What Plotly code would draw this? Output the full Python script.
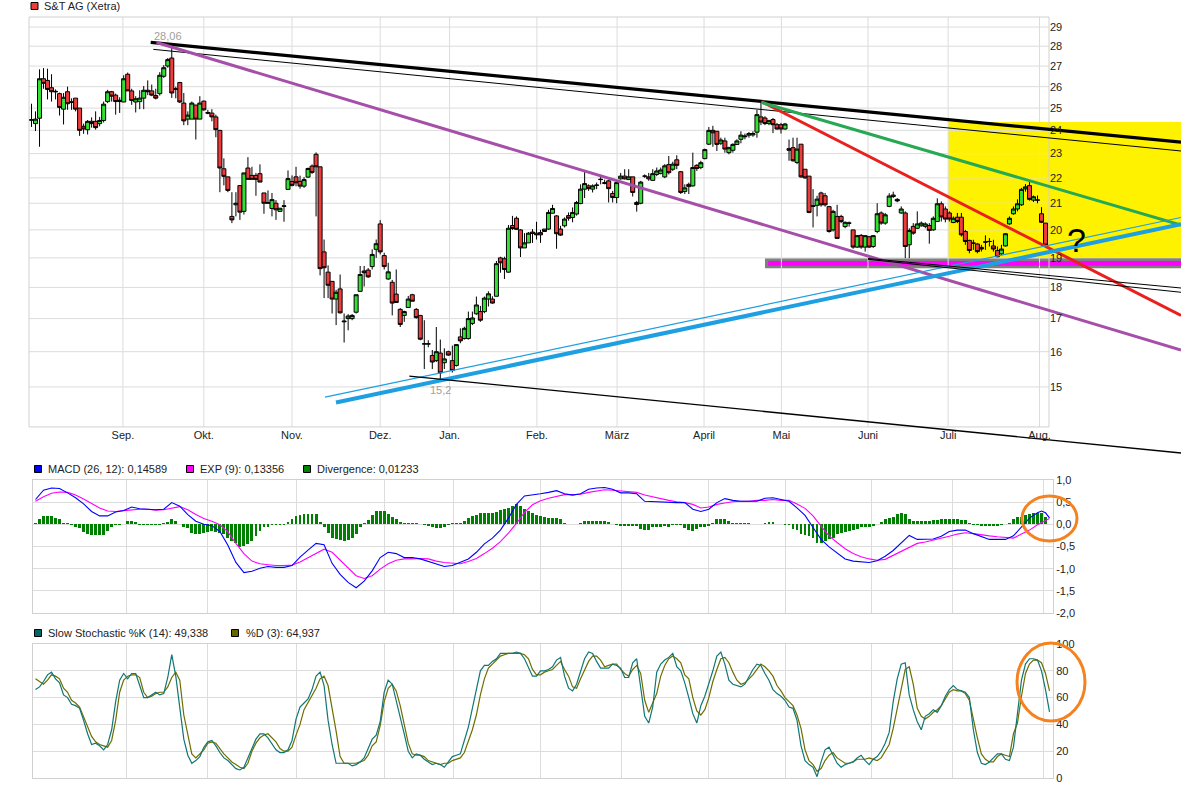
import math
import plotly.graph_objects as go

W, H = 1181, 790
FONT = "Liberation Sans, Arial, Helvetica, sans-serif"
GRID = "#dcdcdc"

# ---------------- price data (daily candles, Xetra) ----------------
opens = [
    24.45, 24.3, 24.54, 26.38, 26.3, 25.95, 25.78, 25.67, 24.95, 25.76,
    25.29, 25.46, 25.0, 24.18, 24.03, 24.4, 24.4, 24.3, 24.44, 25.3,
    25.76, 25.6, 25.3, 25.28, 26.6, 25.8, 25.28, 25.3, 25.46, 25.83,
    25.8, 25.58, 25.67, 26.5, 27.0, 27.4, 25.9, 26.2, 25.23, 24.5,
    24.5, 25.14, 24.5, 25.32, 24.8, 24.77, 24.6, 24.0, 22.37, 22.04,
    20.5, 20.94, 21.69, 20.69, 22.4, 22.1, 22.1, 22.17, 21.4, 21.0,
    20.8, 21.0, 20.69, 20.88, 21.54, 21.85, 22.04, 21.86, 21.67, 22.03,
    22.48, 22.97, 22.45, 19.21, 18.51, 18.2, 17.62, 17.95, 16.9, 17.0,
    17.0, 17.2, 17.87, 18.55, 18.58, 18.7, 19.3, 20.22, 19.08, 18.28,
    18.17, 17.78, 17.29, 17.1, 17.35, 17.76, 17.29, 17.1, 16.23, 16.23,
    15.89, 15.74, 15.96, 15.68, 16.0, 15.74, 15.6, 16.44, 16.39, 16.39,
    16.85, 17.15, 17.22, 17.22, 17.62, 17.62, 17.71, 19.0, 18.97, 18.51,
    20.16, 20.43, 20.0, 19.35, 19.53, 19.92, 19.88, 19.9, 20.03, 20.03,
    20.62, 20.52, 20.03, 20.15, 20.53, 20.46, 20.59, 20.99, 21.55, 21.68,
    21.55, 21.7, 21.93, 21.81, 21.88, 21.38, 21.22, 21.96, 22.07, 21.93,
    22.04, 21.03, 21.0, 22.07, 22.04, 21.9, 22.14, 22.18, 22.04, 22.54,
    22.35, 22.74, 22.25, 21.46, 21.74, 21.68, 22.51, 22.42, 22.79, 23.4,
    24.0, 23.96, 23.44, 23.54, 23.04, 23.14, 23.39, 23.61, 23.72, 23.79,
    23.8, 23.92, 24.6, 24.55, 24.3, 24.48, 24.25, 24.25, 24.06, 23.21,
    23.25, 22.63, 23.4, 22.35, 22.07, 20.88, 20.92, 21.4, 21.29, 20.87,
    20.0, 20.5, 20.5, 20.12, 20.25, 20.0, 19.38, 19.8, 19.38, 19.75,
    19.4, 19.94, 20.63, 20.25, 20.88, 21.32, 21.15, 20.63, 20.63, 19.46,
    20.13, 20.06, 20.15, 20.13, 20.16, 20.0, 20.31, 20.98, 20.78, 20.63,
    20.27, 20.47, 20.47, 19.94, 19.62, 19.52, 19.49, 19.37, 19.56, 19.58,
    19.42, 19.26, 19.14, 19.42, 20.22, 20.6, 20.78, 20.94, 21.56, 21.69,
    21.12, 21.13, 20.6, 20.25,
]
highs = [
    25.2, 24.85, 26.84, 26.9, 26.87, 26.6, 25.87, 25.72, 25.7, 26.0,
    25.45, 25.46, 25.0, 24.3, 24.46, 24.58, 24.85, 24.6, 25.3, 25.85,
    25.8, 25.67, 25.5, 26.55, 26.68, 25.9, 25.55, 25.83, 26.03, 26.3,
    26.1, 25.9, 26.7, 27.05, 27.4, 28.06, 26.0, 26.23, 25.7, 24.85,
    25.3, 25.14, 25.55, 25.35, 24.92, 24.95, 24.7, 24.0, 22.8, 22.04,
    21.43, 21.43, 21.69, 22.2, 22.85, 22.45, 22.2, 22.55, 21.4, 21.5,
    21.4, 21.12, 20.81, 21.12, 22.3, 22.1, 22.45, 22.09, 22.03, 22.42,
    22.55, 23.05, 22.45, 19.65, 18.74, 18.2, 17.92, 18.43, 17.16, 17.14,
    17.14, 17.76, 18.72, 18.72, 18.65, 19.3, 19.65, 20.36, 19.18, 18.83,
    18.25, 18.6, 17.33, 17.25, 17.72, 17.79, 17.33, 17.1, 16.95, 16.34,
    16.05, 16.74, 16.36, 16.1, 16.03, 16.18, 16.21, 16.7, 16.75, 17.22,
    17.22, 17.7, 17.4, 17.7, 17.87, 17.71, 18.89, 19.04, 19.04, 20.18,
    20.52, 20.5, 20.03, 19.88, 19.92, 20.03, 20.3, 20.0, 20.03, 20.75,
    20.94, 20.55, 20.15, 20.46, 20.65, 20.84, 21.09, 21.74, 22.24, 21.74,
    21.74, 21.81, 22.07, 21.93, 21.93, 21.48, 21.84, 22.2, 22.35, 22.35,
    22.04, 21.09, 21.88, 22.14, 22.2, 22.35, 22.42, 22.42, 22.56, 22.9,
    22.66, 22.93, 22.28, 21.74, 21.81, 23.04, 22.56, 22.7, 23.21, 24.15,
    24.2, 23.96, 23.68, 23.68, 23.29, 23.44, 23.61, 23.96, 23.86, 23.93,
    23.96, 24.92, 25.25, 24.63, 24.47, 24.55, 24.33, 24.33, 24.33, 23.6,
    23.68, 23.68, 23.4, 22.35, 22.07, 21.55, 21.29, 21.45, 21.4, 20.9,
    20.75, 20.94, 20.56, 20.31, 20.31, 20.0, 19.81, 19.85, 19.8, 19.78,
    19.81, 21.0, 20.69, 20.63, 21.39, 21.45, 21.2, 20.88, 20.69, 20.06,
    20.25, 20.69, 20.31, 20.28, 20.25, 20.5, 21.19, 21.07, 20.88, 20.69,
    20.5, 20.63, 20.63, 20.0, 19.64, 19.64, 19.52, 19.46, 19.8, 19.7,
    19.64, 19.4, 19.46, 19.88, 20.5, 20.88, 21.15, 21.6, 21.75, 21.85,
    21.3, 21.3, 20.85, 20.25,
]
lows = [
    24.15, 23.97, 23.29, 25.9, 25.4, 25.3, 25.4, 24.66, 24.26, 24.92,
    24.92, 24.85, 23.76, 23.85, 23.82, 24.12, 24.03, 24.18, 24.35, 25.23,
    25.3, 24.7, 24.78, 25.28, 25.8, 25.15, 24.8, 24.95, 24.95, 25.6,
    25.55, 25.4, 25.58, 26.42, 26.92, 25.47, 25.45, 25.23, 24.23, 24.23,
    24.5, 23.6, 24.5, 24.88, 24.72, 24.4, 23.7, 21.43, 21.7, 21.43,
    20.25, 20.5, 20.37, 20.57, 21.94, 21.94, 21.29, 21.83, 20.6, 21.0,
    20.5, 20.37, 20.69, 20.3, 21.54, 21.66, 21.66, 21.57, 21.6, 22.0,
    22.16, 20.5, 18.4, 17.65, 17.65, 17.16, 16.8, 17.16, 16.27, 16.64,
    16.95, 17.16, 17.87, 18.03, 18.32, 18.6, 19.0, 19.12, 18.6, 18.25,
    17.1, 17.5, 16.74, 16.9, 17.35, 17.55, 17.0, 16.34, 15.5, 16.13,
    15.5, 15.7, 15.2, 15.5, 15.88, 15.4, 15.57, 16.25, 16.36, 16.36,
    16.8, 17.12, 16.9, 17.17, 17.38, 17.47, 17.71, 18.49, 18.28, 18.49,
    20.0, 20.0, 19.03, 19.35, 19.53, 19.53, 19.65, 19.53, 19.94, 20.0,
    20.62, 19.32, 19.78, 20.09, 20.34, 20.28, 20.53, 20.96, 21.2, 21.48,
    21.42, 21.55, 21.74, 21.74, 21.03, 21.03, 21.0, 21.93, 21.93, 21.93,
    21.26, 20.68, 20.96, 22.0, 21.88, 21.88, 22.07, 22.14, 21.99, 22.14,
    22.28, 22.35, 21.36, 21.36, 21.36, 21.65, 22.28, 22.35, 22.76, 23.36,
    23.29, 23.11, 23.36, 23.04, 22.97, 23.04, 23.36, 23.44, 23.61, 23.68,
    23.72, 23.68, 24.23, 24.23, 24.23, 23.88, 24.03, 23.86, 24.03, 22.7,
    22.66, 22.56, 22.0, 21.96, 20.62, 20.09, 20.5, 20.87, 20.87, 19.9,
    19.94, 19.69, 20.25, 20.06, 20.12, 19.32, 19.35, 19.32, 19.22, 19.35,
    19.35, 19.88, 20.19, 20.19, 20.85, 21.2, 21.04, 20.6, 18.99, 18.99,
    19.82, 20.03, 20.12, 20.06, 19.5, 19.97, 20.31, 20.31, 20.28, 20.31,
    20.25, 20.25, 19.76, 19.46, 19.16, 19.28, 19.16, 19.22, 19.28, 19.4,
    19.22, 19.02, 19.1, 19.4, 20.19, 20.56, 20.69, 20.9, 21.45, 21.1,
    21.05, 21.0, 20.25, 19.4,
]
closes = [
    24.47, 24.5, 26.38, 26.16, 25.87, 25.76, 25.76, 25.03, 25.5, 25.2,
    25.27, 24.95, 24.0, 24.06, 24.4, 24.3, 24.12, 24.44, 25.18, 25.76,
    25.55, 25.3, 25.36, 26.38, 25.8, 25.35, 25.43, 25.46, 25.83, 25.76,
    25.6, 25.46, 26.55, 26.92, 27.32, 25.7, 25.88, 25.28, 24.42, 24.68,
    25.23, 24.5, 25.23, 24.92, 24.77, 24.6, 24.03, 22.4, 22.06, 21.5,
    20.37, 21.0, 20.66, 22.2, 21.94, 21.94, 21.94, 21.83, 21.0, 21.02,
    21.14, 20.75, 20.81, 20.9, 21.97, 21.7, 21.8, 21.67, 21.93, 22.38,
    22.22, 22.45, 18.63, 18.66, 18.07, 17.62, 17.84, 17.18, 16.92, 17.08,
    17.1, 17.76, 18.43, 18.49, 18.35, 19.12, 19.5, 19.21, 18.7, 18.52,
    17.49, 17.51, 16.82, 17.22, 17.62, 17.55, 17.03, 16.37, 16.23, 16.23,
    15.7, 16.0, 15.39, 15.79, 15.9, 15.46, 16.21, 16.32, 16.7, 17.0,
    17.02, 17.43, 16.95, 17.65, 17.79, 17.49, 18.8, 18.83, 18.6, 20.06,
    20.05, 20.02, 19.35, 19.53, 19.88, 19.87, 19.82, 19.82, 19.94, 20.65,
    20.8, 19.86, 19.81, 20.4, 20.43, 20.65, 21.03, 21.55, 21.77, 21.57,
    21.68, 21.71, 21.94, 21.78, 21.57, 21.22, 21.81, 22.07, 21.96, 22.04,
    21.42, 20.95, 21.83, 22.07, 21.96, 22.17, 22.28, 22.32, 22.49, 22.21,
    22.56, 22.51, 21.42, 21.6, 21.65, 22.42, 22.38, 22.62, 23.17, 24.0,
    23.89, 23.39, 23.58, 23.19, 23.25, 23.39, 23.54, 23.79, 23.75, 23.86,
    23.86, 24.7, 24.37, 24.3, 24.43, 24.25, 24.06, 24.06, 24.28, 23.14,
    22.7, 23.19, 22.04, 22.0, 20.65, 20.9, 21.16, 20.94, 20.94, 19.94,
    20.69, 19.69, 20.31, 20.28, 20.25, 19.38, 19.79, 19.38, 19.79, 19.38,
    19.79, 20.6, 20.25, 20.56, 21.28, 21.26, 21.09, 20.78, 19.4, 19.98,
    19.88, 20.22, 20.25, 20.22, 19.98, 20.43, 20.98, 20.48, 20.4, 20.4,
    20.43, 20.31, 19.82, 19.58, 19.26, 19.52, 19.22, 19.31, 19.56, 19.58,
    19.31, 19.04, 19.31, 19.86, 20.43, 20.78, 20.98, 21.54, 21.64, 21.15,
    21.25, 21.12, 20.28, 19.45,
]

# month gridline positions (in candle-index units) and labels
month_pos = [22.8, 43.0, 65.0, 87.0, 104.3, 126.1, 146.1, 167.8, 187.1, 208.7, 228.7, 251.5]
month_labels = ["Sep.", "Okt.", "Nov.", "Dez.", "Jan.", "Feb.", "März", "April", "Mai", "Juni", "Juli", "Aug."]
price_ticks = [15, 16, 17, 18, 19, 20, 21, 22, 23, 24, 25, 26, 27, 28, 29]

# labelled extremes (candle index, price)
high_idx, high_price, high_text = 35, 28.06, "28,06"
low_idx, low_price, low_text = 102, 15.2, "15,2"

# ---------------- MACD (sampled every 2nd trading day) ----------------
macd_days = list(range(1, 252, 2)) + [252, 253, 254]
macd_vals = [
    0.56, 0.77, 0.82, 0.81, 0.71, 0.60, 0.46, 0.29, 0.19, 0.19,
    0.28, 0.31, 0.39, 0.35, 0.34, 0.33, 0.34, 0.49, 0.41, 0.22,
    0.07, 0.0, -0.03, -0.16, -0.47, -0.86, -1.09, -1.06, -0.99, -0.95,
    -0.97, -0.97, -0.93, -0.74, -0.58, -0.43, -0.46, -0.88, -1.13, -1.31,
    -1.43, -1.28, -1.05, -0.75, -0.63, -0.66, -0.75, -0.75, -0.78, -0.84,
    -0.89, -0.95, -0.93, -0.86, -0.78, -0.63, -0.44, -0.31, -0.13, 0.14,
    0.45, 0.64, 0.66, 0.69, 0.72, 0.76, 0.69, 0.66, 0.69, 0.79,
    0.82, 0.83, 0.79, 0.71, 0.71, 0.69, 0.52, 0.51, 0.50, 0.49,
    0.49, 0.49, 0.34, 0.29, 0.34, 0.49, 0.58, 0.54, 0.52, 0.52,
    0.52, 0.59, 0.60, 0.56, 0.52, 0.37, 0.20, -0.07, -0.34, -0.51,
    -0.64, -0.78, -0.83, -0.84, -0.86, -0.82, -0.72, -0.59, -0.42, -0.25,
    -0.34, -0.34, -0.33, -0.27, -0.16, -0.13, -0.13, -0.21, -0.28, -0.34,
    -0.34, -0.34, -0.26, -0.05, 0.14, 0.26,
    0.30, 0.26, 0.14589,
]
exp_vals = [
    0.52, 0.62, 0.70, 0.73, 0.72, 0.66, 0.57, 0.47, 0.37, 0.30,
    0.29, 0.31, 0.33, 0.34, 0.34, 0.32, 0.33, 0.37, 0.40, 0.33,
    0.22, 0.13, 0.07, -0.01, -0.17, -0.43, -0.66, -0.83, -0.89, -0.91,
    -0.93, -0.93, -0.92, -0.85, -0.75, -0.66, -0.56, -0.63, -0.81, -0.99,
    -1.16, -1.22, -1.16, -1.01, -0.89, -0.81, -0.78, -0.78, -0.77, -0.78,
    -0.83, -0.86, -0.88, -0.89, -0.84, -0.77, -0.66, -0.54, -0.39, -0.20,
    0.02, 0.27, 0.44, 0.53, 0.59, 0.63, 0.67, 0.67, 0.68, 0.72,
    0.75, 0.78, 0.77, 0.75, 0.73, 0.72, 0.66, 0.62, 0.57, 0.54,
    0.51, 0.49, 0.45, 0.37, 0.39, 0.45, 0.48, 0.51, 0.52, 0.52,
    0.54, 0.54, 0.56, 0.54, 0.54, 0.46, 0.36, 0.19, -0.04, -0.26,
    -0.41, -0.55, -0.66, -0.73, -0.78, -0.81, -0.79, -0.70, -0.60, -0.51,
    -0.43, -0.40, -0.36, -0.31, -0.27, -0.22, -0.19, -0.21, -0.24, -0.26,
    -0.28, -0.30, -0.31, -0.22, -0.13, -0.01,
    0.04, 0.09, 0.13356,
]
div_vals = [
    0.04, 0.11, 0.19, 0.19, 0.19, 0.15, 0.11, 0.04, 0.02, -0.01,
    -0.05, -0.09, -0.17, -0.22, -0.24, -0.25, -0.25, -0.23, -0.15, -0.07,
    -0.01, -0.01, 0.0, 0.07, 0.07, 0.05, -0.01, -0.01, -0.01, -0.01,
    -0.01, -0.01, 0.03, 0.06, 0.12, 0.08, 0.01, -0.06, -0.09, -0.19,
    -0.22, -0.22, -0.2, -0.17, -0.15, -0.17, -0.19, -0.22, -0.30, -0.37,
    -0.43, -0.51, -0.49, -0.45, -0.37, -0.26, -0.15, -0.07, -0.05, -0.02,
    -0.01, -0.01, -0.01, 0.05, 0.13, 0.19, 0.22, 0.23, 0.24, 0.24,
    0.24, 0.05, -0.07, -0.2, -0.30, -0.34, -0.36, -0.37, -0.35, -0.31,
    -0.21, -0.06, 0.03, 0.10, 0.21, 0.29, 0.31, 0.29, 0.23, 0.16,
    0.11, 0.05, 0.03, 0.02, 0.03, 0.02, 0.01, -0.02, -0.04, -0.07,
    -0.09, -0.08, -0.05, -0.02, 0.03, 0.04, 0.04, 0.07, 0.14, 0.19,
    0.22, 0.25, 0.26, 0.26, 0.26, 0.28, 0.33, 0.35, 0.37, 0.41,
    0.45, 0.42, 0.35, 0.30, 0.26, 0.22, 0.19, 0.17, 0.15, 0.15,
    0.14, 0.13, 0.04, 0.01, 0.01, 0.01, 0.02, 0.07, 0.08, 0.08,
    0.08, 0.08, 0.07, 0.05, 0.015, -0.02, -0.03, -0.03, -0.04, -0.03,
    -0.04, -0.11, -0.13, -0.12, -0.07, -0.05, -0.05, -0.04, -0.05, -0.015,
    -0.015, -0.015, -0.09, -0.13, -0.15, -0.11, -0.07, -0.05, -0.04, 0.04,
    0.12, 0.12, 0.11, 0.07, 0.03, 0.02, 0.02, 0.03, 0.02, 0.015,
    0.015, 0.015, 0.04, 0.06, 0.05, 0.0, 0.0, -0.01, -0.015, -0.11,
    -0.13, -0.22, -0.24, -0.26, -0.30, -0.41, -0.41, -0.37, -0.33, -0.30,
    -0.22, -0.19, -0.17, -0.15, -0.13, -0.11, -0.07, -0.06, -0.05, -0.04,
    0.015, 0.06, 0.11, 0.15, 0.16, 0.24, 0.26, 0.24, 0.11, 0.07,
    0.07, 0.07, 0.07, 0.08, 0.09, 0.1, 0.11, 0.11, 0.11, 0.11,
    0.11, 0.1, 0.09, 0.04, -0.015, -0.02, -0.04, -0.04, -0.04, -0.03,
    -0.03, -0.02, 0.0, 0.04, 0.11, 0.16, 0.16, 0.22, 0.24, 0.26,
    0.26, 0.25, 0.17, 0.01233,
]

# ---------------- Slow stochastic ----------------
stoch_k = [
    66, 68, 72, 77, 79, 74, 71, 62, 60, 55,
    54, 52, 43, 33, 25, 26, 24, 21, 25, 36,
    57, 73, 78, 74, 78, 78, 69, 60, 60, 62,
    64, 62, 63, 75, 92, 76, 51, 29, 17, 11,
    13, 16, 23, 27, 28, 24, 19, 15, 13, 10,
    7, 6, 8, 15, 22, 29, 33, 33, 30, 25,
    21, 19, 19, 21, 28, 44, 53, 56, 59, 66,
    76, 79, 69, 43, 25, 11, 11, 11, 11, 9,
    10, 12, 15, 22, 29, 32, 42, 64, 73, 70,
    58, 47, 33, 20, 15, 18, 17, 14, 12, 10,
    11, 10, 8, 12, 16, 17, 18, 28, 38, 52,
    65, 80, 84, 84, 87, 89, 93, 93, 93, 93,
    94, 93, 89, 82, 76, 76, 80, 80, 81, 83,
    88, 90, 76, 67, 65, 70, 80, 89, 94, 93,
    87, 82, 82, 82, 85, 84, 82, 75, 75, 86,
    89, 69, 46, 41, 53, 79, 85, 88, 90, 93,
    83, 80, 71, 60, 48, 41, 54, 61, 70, 80,
    91, 94, 85, 73, 70, 69, 68, 70, 76, 81,
    85, 84, 78, 73, 66, 63, 61, 58, 53, 52,
    43, 24, 13, 10, 8, 1, 12, 21, 23, 17,
    11, 8, 10, 11, 12, 15, 17, 13, 10, 14,
    16, 20, 26, 34, 57, 74, 85, 86, 62, 51,
    42, 36, 46, 48, 51, 49, 54, 61, 66, 69,
    66, 65, 64, 60, 36, 19, 11, 10, 12, 15,
    18, 18, 14, 13, 23, 48, 73, 85, 89, 89,
    88, 80, 66, 49.338,
]
stoch_d = [
    74, 72, 70, 73, 77, 76, 74, 67, 64, 58,
    56, 53, 46, 39, 31, 27, 25, 24, 23, 28,
    43, 64, 73, 76, 77, 77, 75, 64, 60, 61,
    63, 64, 64, 68, 75, 79, 73, 47, 32, 18,
    15, 18, 21, 26, 27, 26, 22, 18, 15, 12,
    10, 8, 7, 11, 20, 26, 30, 32, 33, 30,
    27, 22, 20, 20, 23, 32, 40, 51, 56, 61,
    67, 74, 76, 69, 53, 35, 16, 11, 11, 11,
    11, 12, 13, 17, 24, 27, 39, 57, 67, 70,
    65, 54, 40, 26, 18, 17, 17, 16, 13, 12,
    11, 10, 11, 11, 13, 14, 15, 19, 28, 36,
    47, 62, 74, 82, 85, 88, 91, 92, 93, 93,
    93, 93, 92, 89, 81, 77, 77, 79, 80, 81,
    84, 87, 81, 76, 68, 67, 74, 81, 87, 91,
    91, 88, 83, 84, 85, 85, 81, 78, 76, 81,
    84, 78, 58, 49, 56, 63, 76, 84, 89, 91,
    89, 86, 77, 74, 60, 50, 47, 51, 60, 72,
    81, 89, 90, 86, 79, 73, 70, 71, 74, 77,
    81, 85, 83, 80, 76, 69, 65, 60, 57, 54,
    47, 37, 21, 13, 10, 5, 7, 13, 17, 19,
    15, 13, 11, 11, 12, 14, 14, 14, 15, 14,
    13, 15, 20, 25, 37, 52, 68, 81, 83, 70,
    52, 46, 44, 46, 49, 51, 54, 59, 64, 66,
    65, 65, 63, 58, 43, 30, 18, 14, 12, 12,
    16, 18, 17, 16, 33, 41, 61, 78, 85, 88,
    88, 86, 78, 64.937,
]

# ---------------- drawn analysis objects (candle index, price) ----------------
trend_lines = [
    (29.74, 28.20, 286.8, 23.49),   # thick black resistance
    (30.39, 27.84, 286.8, 23.11),   # thin black resistance
    (31.19, 28.19, 286.8, 16.05),   # purple
    (182.1, 25.30, 286.8, 17.10),   # red
    (182.1, 25.26, 286.8, 20.18),   # green
    (75.97, 14.58, 286.8, 20.21),   # thick blue support
    (73.23, 14.72, 286.8, 20.46),   # thin blue support
    (94.26, 15.30, 286.8, 13.29),   # lower black
    (208.7, 18.98, 286.8, 17.98),   # black A
    (208.7, 18.95, 286.8, 17.84),   # black B
]
trend_styles = [
    ("#000000", 3.2), ("#000000", 1.0), ("#a64fa9", 3.0), ("#e8201e", 3.0),
    ("#27a852", 3.0), ("#1d9fe2", 4.0), ("#1d9fe2", 1.2), ("#000000", 1.3),
    ("#000000", 1.0), ("#000000", 1.0),
]
yellow_box = (228.7, 18.99, 286.8, 24.37)
support_grey = (183.0, 18.64, 286.8, 18.99)
support_magenta = (183.8, 18.73, 286.8, 18.89)

# ---------------- geometry ----------------
def fx(p):
    return p / W


def fy(p):
    return 1 - p / H


N = len(closes)
assert len(opens) == N and len(highs) == N and len(lows) == N
assert len(div_vals) == N and len(stoch_k) == N and len(stoch_d) == N
assert len(macd_vals) == len(macd_days) and len(exp_vals) == len(macd_days)
idx = list(range(N))
macd_idx = [d - 1 for d in macd_days]

TOP_RANGE_X = [-0.873, 286.8]
TOP_RANGE_Y = [1.11795, 1.47120]
FRAME_X = (-0.624, 253.87)
FRAME_P = (13.94, 29.54)
LOW_RANGE_X = [-0.624, 253.87]

fig = go.Figure()

fig.add_trace(go.Candlestick(
    x=idx, open=opens, high=highs, low=lows, close=closes,
    increasing=dict(fillcolor="#33e033", line=dict(color="#000000", width=1)),
    decreasing=dict(fillcolor="#ee3b3b", line=dict(color="#000000", width=1)),
    whiskerwidth=0, hoverinfo="skip", xaxis="x", yaxis="y",
))

for (x0, p0, x1, p1), (col, lw) in zip(trend_lines, trend_styles):
    fig.add_trace(go.Scatter(x=[x0, x1], y=[p0, p1], mode="lines",
                             line=dict(color=col, width=lw), hoverinfo="skip",
                             xaxis="x", yaxis="y"))

# MACD panel
fig.add_trace(go.Bar(x=idx, y=div_vals, marker=dict(color="#008000", line=dict(width=0)),
                     width=0.72, hoverinfo="skip", xaxis="x2", yaxis="y2"))
fig.add_trace(go.Scatter(x=macd_idx, y=exp_vals, mode="lines",
                         line=dict(color="#ff00ff", width=1.1), hoverinfo="skip",
                         xaxis="x2", yaxis="y2"))
fig.add_trace(go.Scatter(x=macd_idx, y=macd_vals, mode="lines",
                         line=dict(color="#0000ff", width=1.1), hoverinfo="skip",
                         xaxis="x2", yaxis="y2"))

# Stochastic panel
fig.add_trace(go.Scatter(x=idx, y=stoch_d, mode="lines",
                         line=dict(color="#6e6e00", width=1.2), hoverinfo="skip",
                         xaxis="x3", yaxis="y3"))
fig.add_trace(go.Scatter(x=idx, y=stoch_k, mode="lines",
                         line=dict(color="#107676", width=1.2), hoverinfo="skip",
                         xaxis="x3", yaxis="y3"))

shapes = []
# highlighted zones (below the grid)
for (x0, p0, x1, p1), col in [(yellow_box, "#fff200"), (support_grey, "#808080"),
                              (support_magenta, "#ff00ff")]:
    shapes.append(dict(type="rect", xref="x", yref="y", x0=x0, x1=x1, y0=p0, y1=p1,
                       fillcolor=col, line=dict(width=0), layer="below"))
# top panel grid and frame
for p in price_ticks:
    shapes.append(dict(type="line", xref="x", yref="y", x0=FRAME_X[0], x1=FRAME_X[1],
                       y0=p, y1=p, line=dict(color=GRID, width=1), layer="below"))
for m in month_pos:
    shapes.append(dict(type="line", xref="x", yref="y", x0=m, x1=m,
                       y0=FRAME_P[0], y1=FRAME_P[1], line=dict(color=GRID, width=1),
                       layer="below"))
shapes.append(dict(type="rect", xref="x", yref="y", x0=FRAME_X[0], x1=FRAME_X[1],
                   y0=FRAME_P[0], y1=FRAME_P[1], line=dict(color="#d0d0d0", width=1),
                   fillcolor="rgba(0,0,0,0)", layer="below"))

# legend squares
def square(x0, y0, color):
    return dict(type="rect", xref="paper", yref="paper", x0=fx(x0), x1=fx(x0 + 7),
                y0=fy(y0 + 7), y1=fy(y0), fillcolor=color,
                line=dict(color="#000000", width=1))

shapes += [
    square(31, 2.5, "#ee3b3b"),
    square(34.5, 465.5, "#0000ff"), square(186.5, 465.5, "#ff00ff"),
    square(303.5, 465.5, "#008000"),
    square(34.5, 629.5, "#006666"), square(231.5, 629.5, "#666600"),
]
# orange highlight ellipses
shapes.append(dict(type="circle", xref="paper", yref="paper", x0=fx(1022), x1=fx(1077),
                   y0=fy(541), y1=fy(496), line=dict(color="#f5821f", width=3)))
shapes.append(dict(type="circle", xref="paper", yref="paper", x0=fx(1017), x1=fx(1085),
                   y0=fy(721), y1=fy(643), line=dict(color="#f5821f", width=3)))


def dec(v, n):
    return f"{v:.{n}f}".replace(".", ",")


legend_font = dict(family=FONT, size=11, color="#222222")
annotations = [
    dict(x=fx(42), y=fy(6), text="S&T AG (Xetra)"),
    dict(x=fx(46), y=fy(469), text=f"MACD (26, 12): {dec(macd_vals[-1], 5)}"),
    dict(x=fx(198), y=fy(469), text=f"EXP (9): {dec(exp_vals[-1], 5)}"),
    dict(x=fx(315), y=fy(469), text=f"Divergence: {dec(div_vals[-1], 5)}"),
    dict(x=fx(46), y=fy(633), text=f"Slow Stochastic %K (14): {dec(stoch_k[-1], 3)}"),
    dict(x=fx(244), y=fy(633), text=f"%D (3): {dec(stoch_d[-1], 3)}"),
]
for a in annotations:
    a.update(xref="paper", yref="paper", xanchor="left", yanchor="middle",
             showarrow=False, font=legend_font)
annotations.append(dict(x=fx(1076), y=fy(240), xref="paper", yref="paper", text="?",
                        showarrow=False, xanchor="center", yanchor="middle",
                        font=dict(family=FONT, size=34, color="#000000")))
# extreme-value labels (log axis -> annotation y in log10 units)
annotations.append(dict(x=high_idx, y=math.log10(high_price), xref="x", yref="y",
                        text=high_text, showarrow=False, xanchor="center",
                        yanchor="middle", yshift=9, xshift=-4,
                        font=dict(family=FONT, size=11, color="#a0a0a0")))
annotations.append(dict(x=low_idx, y=math.log10(low_price), xref="x", yref="y",
                        text=low_text, showarrow=False, xanchor="center",
                        yanchor="middle", yshift=-10,
                        font=dict(family=FONT, size=11, color="#a0a0a0")))

tickfont = dict(family=FONT, size=11, color="#222222")
fig.update_layout(
    width=W, height=H, margin=dict(l=0, r=0, t=0, b=0),
    paper_bgcolor="#ffffff", plot_bgcolor="rgba(0,0,0,0)",
    showlegend=False, boxgap=0.0, boxgroupgap=0.0, bargap=0,
    shapes=shapes, annotations=annotations, hovermode=False,
    xaxis=dict(domain=[fx(28), 1.0], range=TOP_RANGE_X, anchor="free", position=fy(427),
               showgrid=False, zeroline=False, showline=False, ticks="",
               tickvals=month_pos, ticktext=month_labels, tickfont=tickfont,
               rangeslider=dict(visible=False), automargin=False, fixedrange=True),
    yaxis=dict(domain=[fy(460), fy(16)], type="log", range=TOP_RANGE_Y, anchor="free",
               position=fx(1049), side="right", showgrid=False, zeroline=False,
               showline=False, ticks="", tickvals=price_ticks,
               ticktext=[str(t) for t in price_ticks], tickfont=tickfont,
               automargin=False, fixedrange=True),
    xaxis2=dict(domain=[fx(33), fx(1053)], range=LOW_RANGE_X, anchor="y2",
                showgrid=True, gridcolor=GRID, gridwidth=1, tickvals=month_pos,
                showticklabels=False, ticks="", zeroline=False, showline=True,
                mirror=True, linecolor="#d0d0d0", linewidth=1, automargin=False),
    yaxis2=dict(domain=[fy(613), fy(480)], range=[-2, 1], anchor="x2", side="right",
                showgrid=True, gridcolor=GRID, gridwidth=1,
                tickvals=[1, 0.5, 0, -0.5, -1, -1.5, -2],
                ticktext=["1,0", "0,5", "0,0", "-0,5", "-1,0", "-1,5", "-2,0"],
                ticks="", zeroline=False, showline=True, mirror=True,
                linecolor="#d0d0d0", linewidth=1, tickfont=tickfont, automargin=False),
    xaxis3=dict(domain=[fx(33), fx(1053)], range=LOW_RANGE_X, anchor="y3",
                showgrid=True, gridcolor=GRID, gridwidth=1, tickvals=month_pos,
                showticklabels=False, ticks="", zeroline=False, showline=True,
                mirror=True, linecolor="#d0d0d0", linewidth=1, automargin=False),
    yaxis3=dict(domain=[fy(778), fy(644)], range=[0, 100], anchor="x3", side="right",
                showgrid=True, gridcolor=GRID, gridwidth=1,
                tickvals=[0, 20, 40, 60, 80, 100], ticks="", zeroline=False,
                showline=True, mirror=True, linecolor="#d0d0d0", linewidth=1,
                tickfont=tickfont, automargin=False),
)

fig.write_html(
    "out.html",
    config={"displayModeBar": False, "staticPlot": True},
    post_script="document.body.style.margin='0';document.body.style.overflow='hidden';",
)
